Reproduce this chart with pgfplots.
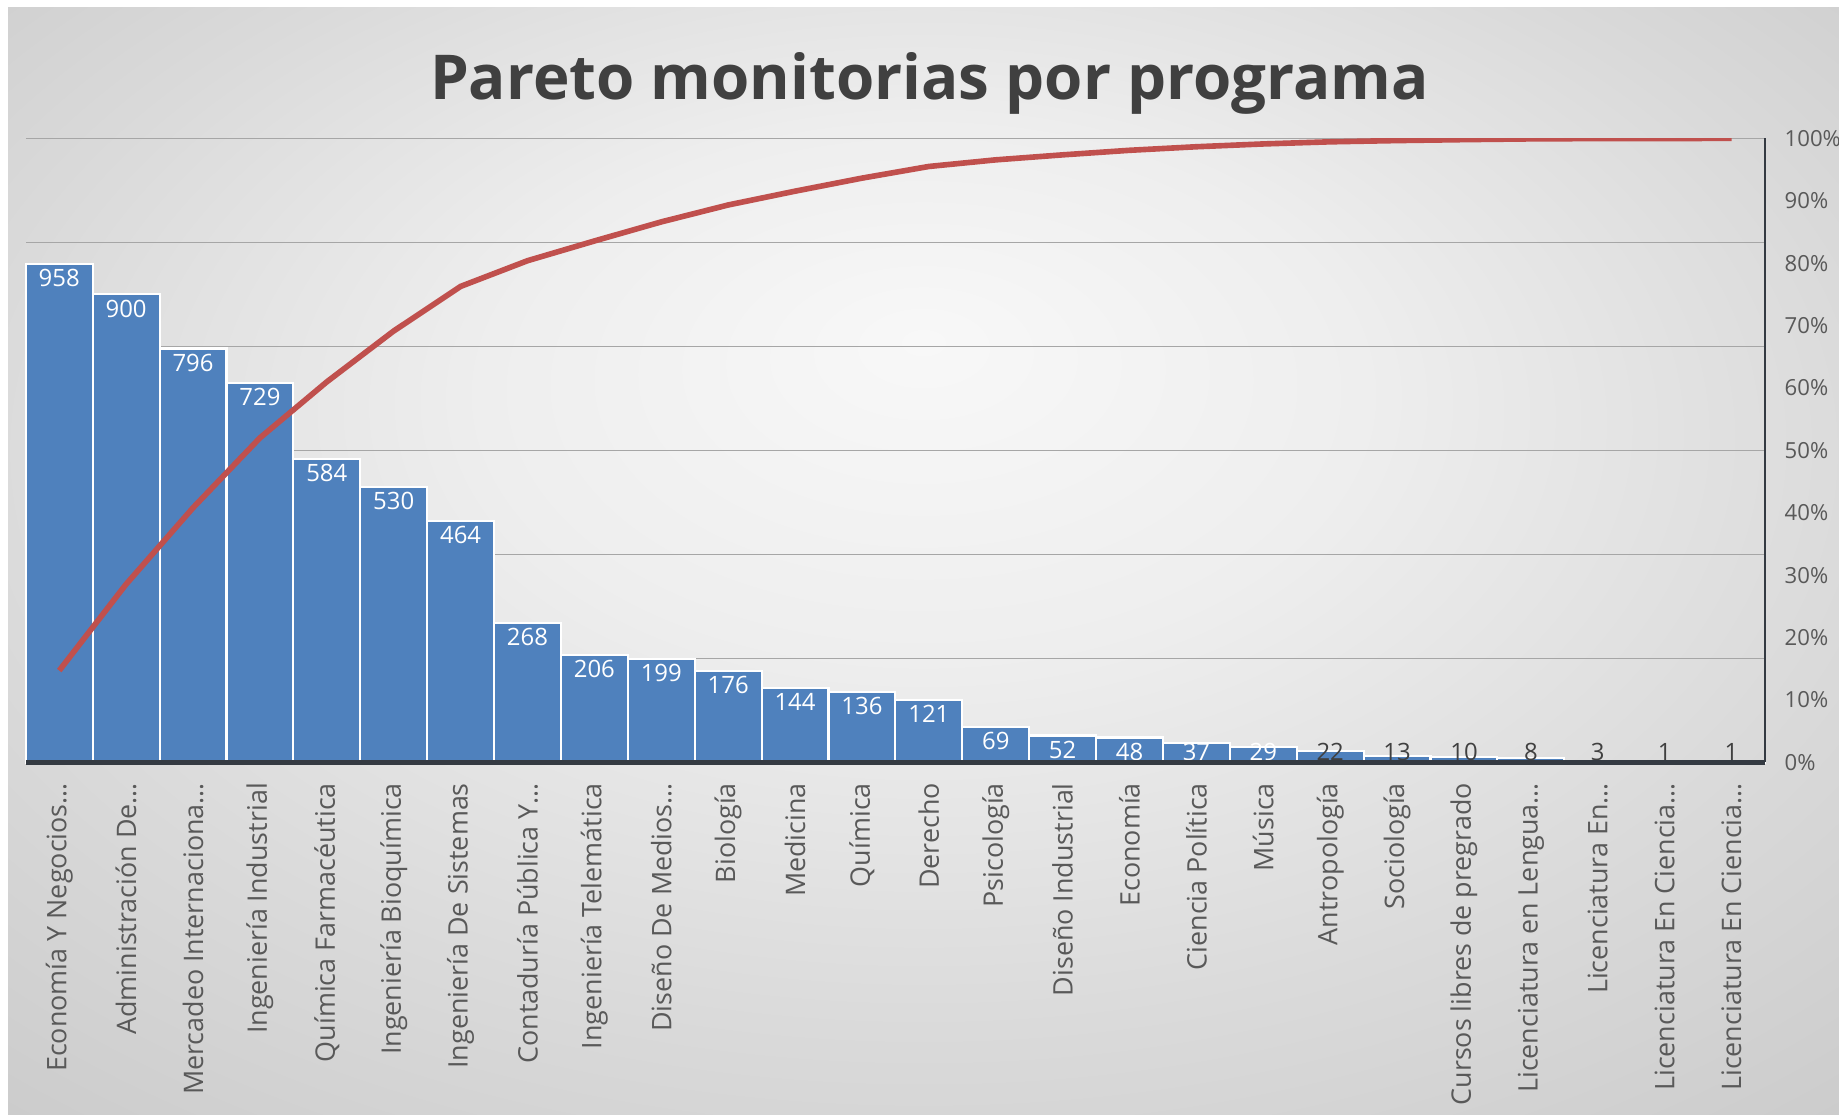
\documentclass[border=0pt]{standalone}
\usepackage{fontspec}
\setmainfont{Open Sans}
\usepackage{pgfplots}
\pgfplotsset{compat=1.18}
\usepackage{pgfplotstable}
\definecolor{barblue}{HTML}{4F81BD}
\definecolor{linered}{HTML}{C0504D}
\definecolor{txtgray}{HTML}{595959}
\definecolor{titlegray}{HTML}{404040}
\definecolor{axisdark}{HTML}{343A42}
\definecolor{gridgray}{HTML}{A6A6A6}
\definecolor{bgA}{HTML}{F8F8F8}
\definecolor{bgB}{HTML}{EEEEEE}
\definecolor{bgC}{HTML}{DADADA}
\definecolor{bgD}{HTML}{CBCBCB}
\pgfdeclareradialshading{bgshade}{\pgfpoint{0bp}{10bp}}{color(0bp)=(bgA); color(12bp)=(bgB); color(26bp)=(bgC); color(38bp)=(bgD); color(50bp)=(bgD)}

\pgfplotstableread{
idx val cum
0 958 14.73
1 900 28.57
2 796 40.81
3 729 52.01
4 584 60.99
5 530 69.14
6 464 76.28
7 268 80.40
8 206 83.56
9 199 86.62
10 176 89.33
11 144 91.54
12 136 93.63
13 121 95.50
14 69 96.56
15 52 97.36
16 48 98.09
17 37 98.66
18 29 99.11
19 22 99.45
20 13 99.65
21 10 99.80
22 8 99.92
23 3 99.97
24 1 99.98
25 1 100.00
}\datatable
\pgfplotstablecreatecol[create col/expr={max(\thisrow{val}-27,20)}]{ly}\datatable

\begin{document}
\begin{tikzpicture}
\fill[white] (0,0) rectangle (183.9mm,111.5mm);
\shade[shading=bgshade] (0.8mm,0mm) rectangle (183.9mm,110.7mm);

\node[font=\fontsize{17.6}{20}\selectfont\bfseries, text=titlegray, anchor=base] at (92.95mm,101.5mm) {Pareto monitorias por programa};

\begin{axis}[
  at={(2.58mm,35.25mm)}, anchor=south west, scale only axis,
  width=173.92mm, height=62.41mm,
  xmin=-0.5, xmax=25.5, ymin=0, ymax=1200,
  axis x line*=bottom, axis y line*=left,
  x axis line style={draw=none},
  y axis line style={draw=none},
  ytick={200,400,600,800,1000,1200}, yticklabels={},
  ymajorgrids, grid style={color=gridgray, line width=0.35pt},
  xtick={0,1,2,3,4,5,6,7,8,9,10,11,12,13,14,15,16,17,18,19,20,21,22,23,24,25},
  xticklabels={{Economía Y Negocios…},{Administración De…},{Mercadeo Internaciona…},{Ingeniería Industrial},{Química Farmacéutica},{Ingeniería Bioquímica},{Ingeniería De Sistemas},{Contaduría Pública Y…},{Ingeniería Telemática},{Diseño De Medios…},{Biología},{Medicina},{Química},{Derecho},{Psicología},{Diseño Industrial},{Economía},{Ciencia Política},{Música},{Antropología},{Sociología},{Cursos libres de pregrado},{Licenciatura en Lengua…},{Licenciatura En…},{Licenciatura En Ciencia…},{Licenciatura En Ciencia…}},
  xticklabel style={rotate=90, anchor=east, font=\fontsize{7.65}{9}\selectfont, text=txtgray, inner sep=0pt},
  xticklabel shift=2.0mm,
  major tick length=0pt,
  clip=false,
]
\addplot[ybar, bar width=1, fill=barblue, draw=white, line width=0.6pt] table[x=idx,y=val]{\datatable};
\addplot[draw=none, mark=none, nodes near coords, point meta=explicit symbolic,
  every node near coord/.style={anchor=center, text=white, font=\fontsize{6.8}{8}\selectfont, inner sep=0pt},
  restrict x to domain=0:18] table[x=idx,y=ly,meta=val]{\datatable};
\addplot[draw=none, mark=none, nodes near coords, point meta=explicit symbolic,
  every node near coord/.style={anchor=center, text=titlegray, font=\fontsize{6.8}{8}\selectfont, inner sep=0pt},
  restrict x to domain=19:25] table[x=idx,y=ly,meta=val]{\datatable};
\end{axis}

\begin{axis}[
  at={(2.58mm,35.25mm)}, anchor=south west, scale only axis,
  width=173.92mm, height=62.41mm,
  xmin=-0.5, xmax=25.5, ymin=0, ymax=100,
  axis x line*=bottom, axis y line*=right,
  xtick=\empty,
  ytick={0,10,20,30,40,50,60,70,80,90,100},
  yticklabel={\pgfmathprintnumber{\tick}\%},
  /pgf/number format/assume math mode=true,
  yticklabel style={font=\fontsize{6.3}{7}\selectfont, text=txtgray, anchor=west, inner sep=0pt, xshift=1.9mm},
  y axis line style={axisdark, line width=0.8pt, -},
  x axis line style={axisdark, line width=1.3pt, -},
  major tick length=0pt,
]
\addplot[linered, line width=1.6pt, mark=none] table[x=idx,y=cum]{\datatable};
\end{axis}

\pgfresetboundingbox
\useasboundingbox (0,0) rectangle (183.9mm,111.5mm);
\end{tikzpicture}
\end{document}
